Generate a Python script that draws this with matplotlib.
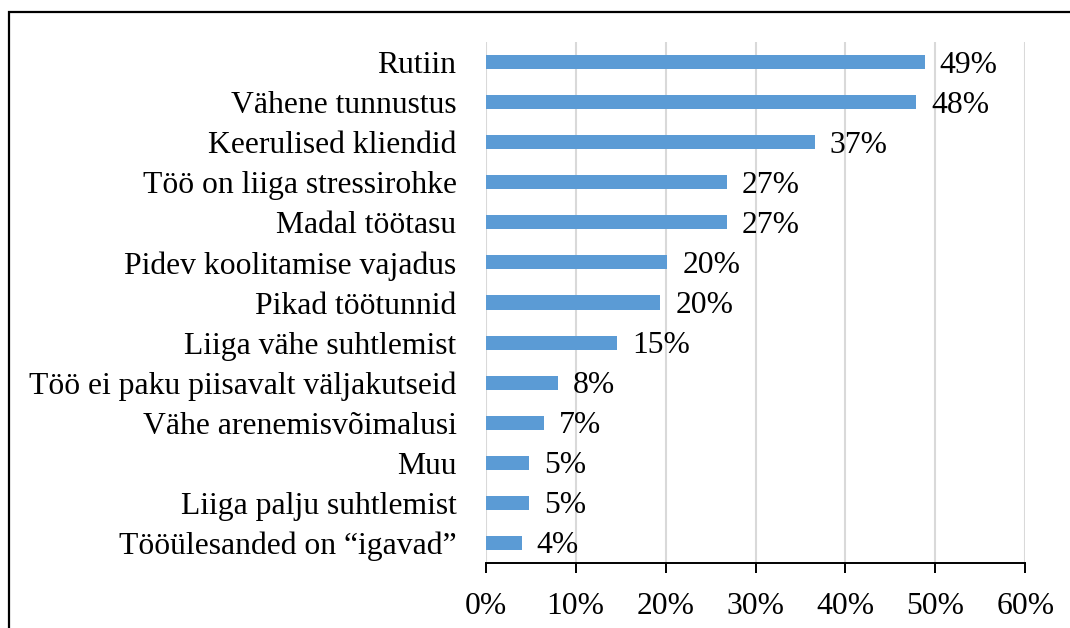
import matplotlib
matplotlib.use("Agg")
import matplotlib.pyplot as plt
from matplotlib.patches import Rectangle
from matplotlib.ticker import FuncFormatter, MultipleLocator

categories = [
    "Rutiin",
    "Vähene tunnustus",
    "Keerulised kliendid",
    "Töö on liiga stressirohke",
    "Madal töötasu",
    "Pidev koolitamise vajadus",
    "Pikad töötunnid",
    "Liiga vähe suhtlemist",
    "Töö ei paku piisavalt väljakutseid",
    "Vähe arenemisvõimalusi",
    "Muu",
    "Liiga palju suhtlemist",
    "Tööülesanded on \u201cigavad\u201d",
]
values = [48.8, 47.9, 36.6, 26.8, 26.8, 20.2, 19.4, 14.6, 8.0, 6.5, 4.8, 4.8, 4.0]
value_labels = ["49%", "48%", "37%", "27%", "27%", "20%", "20%", "15%", "8%", "7%", "5%", "5%", "4%"]

plt.rcParams['font.family'] = ['Liberation Serif', 'DejaVu Serif']

W, H = 1070, 628
FS = 22.8
fig = plt.figure(figsize=(W / 100, H / 100), dpi=100)
ax = fig.add_axes([485.7 / W, 1 - 563 / H, (1025.3 - 485.7) / W, (563 - 42) / H])

n = len(categories)
ypos = list(range(n))
ax.barh(ypos, values, height=0.35, color="#5B9BD5", zorder=3)
ax.set_ylim(n - 0.5, -0.5)
ax.set_xlim(0, 60)
ax.xaxis.set_major_locator(MultipleLocator(10))
ax.xaxis.set_major_formatter(FuncFormatter(lambda v, p: f"{v:.0f}%"))
ax.grid(axis="x", color="#D9D9D9", linewidth=1.5, zorder=0)
ax.set_axisbelow(True)

for s in ["top", "right", "left"]:
    ax.spines[s].set_visible(False)
ax.spines["bottom"].set_color("black")
ax.spines["bottom"].set_linewidth(1.4)
ax.tick_params(axis="x", direction="out", length=7, width=1.4, color="black",
               labelsize=FS, pad=14)
ax.tick_params(axis="y", length=0, labelsize=FS, pad=21)
ax.set_yticks(ypos)
ax.set_yticklabels(categories)

for y, v, lab in zip(ypos, values, value_labels):
    ax.annotate(lab, (v, y), xytext=(15, -3), textcoords="offset pixels",
                ha="left", va="center", fontsize=FS, zorder=4)

border = Rectangle((8.5 / W, -0.1), 1.2, 1 - 12 / H + 0.1, transform=fig.transFigure,
                   fill=False, edgecolor="black", linewidth=1.6, clip_on=False)
fig.patches.append(border)

fig.savefig("out.png", dpi=100)
